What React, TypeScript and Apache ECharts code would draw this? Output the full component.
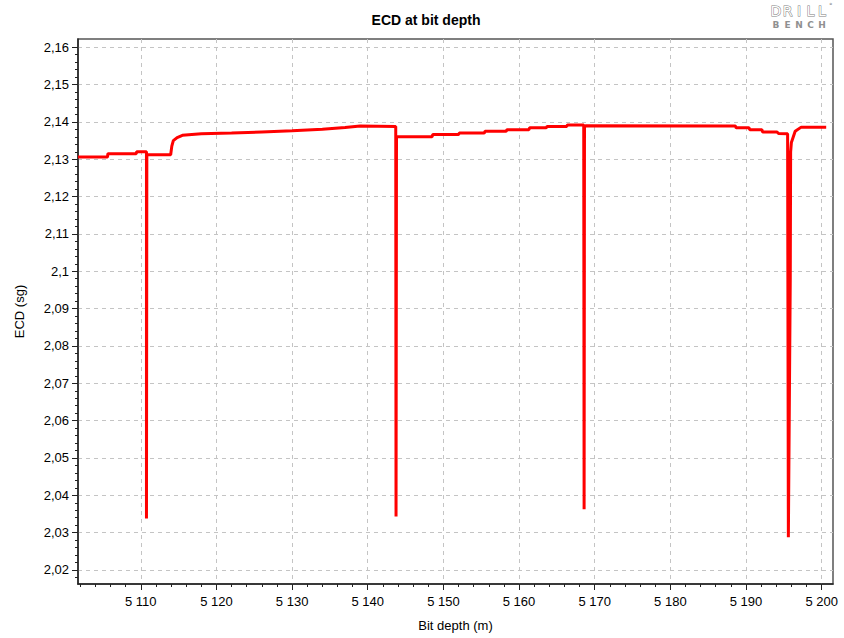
import React, { useEffect, useRef } from "react";
import * as echarts from "echarts";

const depth = [
  5101.7, 5105.6, 5105.65, 5109.4, 5109.45, 5110.75, 5110.75, 5110.8, 5113.95, 5114.1,
  5114.3, 5114.8, 5115.5, 5118, 5122, 5126, 5130, 5134, 5137, 5139,
  5143.7, 5143.74, 5143.8, 5148.5, 5148.6, 5152, 5152.1, 5155.4, 5155.5, 5158.3,
  5158.4, 5161.3, 5161.4, 5163.6, 5163.7, 5166.3, 5166.4, 5168.55, 5168.6, 5168.65,
  5168.8, 5188.6, 5188.7, 5190.4, 5190.5, 5192.1, 5192.2, 5194.1, 5194.3, 5195.5,
  5195.6, 5195.85, 5195.9, 5196.0, 5196.5, 5197.3, 5200.6,
];
const ecd = [
  2.1306, 2.1306, 2.1315, 2.1315, 2.132, 2.132, 2.0338, 2.1312, 2.1312, 2.1335,
  2.135, 2.1358, 2.1364, 2.1368, 2.137, 2.1373, 2.1376, 2.138, 2.1385, 2.1389,
  2.1388, 2.0343, 2.136, 2.136, 2.1366, 2.1366, 2.137, 2.137, 2.1375, 2.1375,
  2.1379, 2.1379, 2.1384, 2.1384, 2.1388, 2.1388, 2.1392, 2.1392, 2.0363, 2.1385,
  2.139, 2.1389, 2.1384, 2.1384, 2.1379, 2.1379, 2.1373, 2.1373, 2.1369, 2.1368,
  2.0288, 2.0977, 2.132, 2.1345, 2.1375, 2.1386, 2.1386,
];

const xTicks = [5110, 5120, 5130, 5140, 5150, 5160, 5170, 5180, 5190, 5200];
const xMinorTicks = [
  5102, 5104, 5106, 5108, 5112, 5114, 5116, 5118, 5122, 5124, 5126, 5128,
  5132, 5134, 5136, 5138, 5142, 5144, 5146, 5148, 5152, 5154, 5156, 5158,
  5162, 5164, 5166, 5168, 5172, 5174, 5176, 5178, 5182, 5184, 5186, 5188,
  5192, 5194, 5196, 5198,
];
const yTicks = [2.02, 2.03, 2.04, 2.05, 2.06, 2.07, 2.08, 2.09, 2.1, 2.11, 2.12, 2.13, 2.14, 2.15, 2.16];
const yMinorTicks = [
  2.018, 2.022, 2.024, 2.026, 2.028, 2.032, 2.034, 2.036, 2.038, 2.042, 2.044, 2.046, 2.048,
  2.052, 2.054, 2.056, 2.058, 2.062, 2.064, 2.066, 2.068, 2.072, 2.074, 2.076, 2.078,
  2.082, 2.084, 2.086, 2.088, 2.092, 2.094, 2.096, 2.098, 2.102, 2.104, 2.106, 2.108,
  2.112, 2.114, 2.116, 2.118, 2.122, 2.124, 2.126, 2.128, 2.132, 2.134, 2.136, 2.138,
  2.142, 2.144, 2.146, 2.148, 2.152, 2.154, 2.156, 2.158,
];

const X_MIN = 5101.7;
const X_MAX = 5201.5;
const Y_MIN = 2.01625;
const Y_MAX = 2.1622;

const FONT = "Liberation Sans";

export default function App() {
  const ref = useRef<HTMLDivElement>(null);
  useEffect(() => {
    if (!ref.current) return;
    const chart = echarts.init(ref.current, undefined, { renderer: "svg" });
    const data = depth.map((d, i) => [d, ecd[i]]);
    const logoTop = "DRILL".split("");
    const logoBottom = "BENCH".split("");
    chart.setOption({
      animation: false,
      backgroundColor: "#ffffff",
      title: {
        text: "ECD at bit depth",
        left: 421,
        top: 8,
        textAlign: "center",
        textStyle: { fontFamily: FONT, fontSize: 14, fontWeight: "bold", color: "#000" },
      },
      grid: {
        left: 78,
        top: 39,
        right: 11,
        bottom: 54,
        show: true,
        borderColor: "#555",
        borderWidth: 1.5,
        backgroundColor: "transparent",
      },
      xAxis: [
        {
          type: "value",
          min: X_MIN,
          max: X_MAX,
          position: "bottom",
          name: "Bit depth (m)",
          nameLocation: "middle",
          nameGap: 35,
          nameTextStyle: { fontFamily: FONT, fontSize: 13, color: "#000" },
          axisLine: { show: true, onZero: false, lineStyle: { color: "#222", width: 1.5 } },
          axisTick: { show: true, customValues: xTicks, length: 6, lineStyle: { color: "#222" } },
          axisLabel: {
            customValues: xTicks,
            margin: 11,
            fontFamily: FONT,
            fontSize: 13,
            color: "#000",
            formatter: (v: number) => String(Math.round(v)).replace(/\B(?=(\d{3})+(?!\d))/g, " "),
          },
          splitLine: { show: true, lineStyle: { color: "#c4c4c4", type: [4, 4], width: 1 } },
        },
        {
          type: "value",
          min: X_MIN,
          max: X_MAX,
          position: "bottom",
          axisLine: { show: false },
          axisTick: { show: true, customValues: xMinorTicks, length: 3, lineStyle: { color: "#222" } },
          axisLabel: { show: false },
          splitLine: { show: false },
        },
      ],
      yAxis: [
        {
          type: "value",
          min: Y_MIN,
          max: Y_MAX,
          position: "left",
          name: "ECD (sg)",
          nameLocation: "middle",
          nameGap: 52,
          nameTextStyle: { fontFamily: FONT, fontSize: 13, color: "#000" },
          axisLine: { show: true, onZero: false, lineStyle: { color: "#222", width: 1.5 } },
          axisTick: { show: true, customValues: yTicks, length: 6, lineStyle: { color: "#222" } },
          axisLabel: {
            customValues: yTicks,
            margin: 9,
            fontFamily: FONT,
            fontSize: 13,
            color: "#000",
            formatter: (v: number) => String(+v.toFixed(2)).replace(".", ","),
          },
          splitLine: { show: true, lineStyle: { color: "#c4c4c4", type: [4, 4], width: 1 } },
        },
        {
          type: "value",
          min: Y_MIN,
          max: Y_MAX,
          position: "left",
          axisLine: { show: false },
          axisTick: { show: true, customValues: yMinorTicks, length: 3, lineStyle: { color: "#222" } },
          axisLabel: { show: false },
          splitLine: { show: false },
        },
      ],
      graphic: [
        ...logoTop.map((ch, i) => ({
          type: "text",
          x: 776 + i * 11.5,
          y: 4,
          silent: true,
          style: {
            text: ch,
            fontFamily: "DejaVu Sans",
            fontSize: 14,
            fill: "#ffffff",
            stroke: "#808080",
            lineWidth: 1,
            textAlign: "center",
          },
        })),
        {
          type: "text",
          x: 829,
          y: 2,
          silent: true,
          style: { text: "°", fontFamily: "DejaVu Sans", fontSize: 7, fill: "#808080" },
        },
        ...logoBottom.map((ch, i) => ({
          type: "text",
          x: 776 + i * 11.5,
          y: 20,
          silent: true,
          style: {
            text: ch,
            fontFamily: "DejaVu Sans",
            fontSize: 9,
            fontWeight: "bold",
            fill: "#909090",
            textAlign: "center",
          },
        })),
      ],
      series: [
        {
          type: "line",
          xAxisIndex: 0,
          yAxisIndex: 0,
          data,
          showSymbol: false,
          symbol: "none",
          lineStyle: { color: "#ff0000", width: 3 },
          clip: true,
        },
      ],
    });
    return () => chart.dispose();
  }, []);
  return (
    <div
      ref={ref}
      style={{ position: "fixed", left: 0, top: 0, width: 844, height: 638, background: "#fff" }}
    />
  );
}
